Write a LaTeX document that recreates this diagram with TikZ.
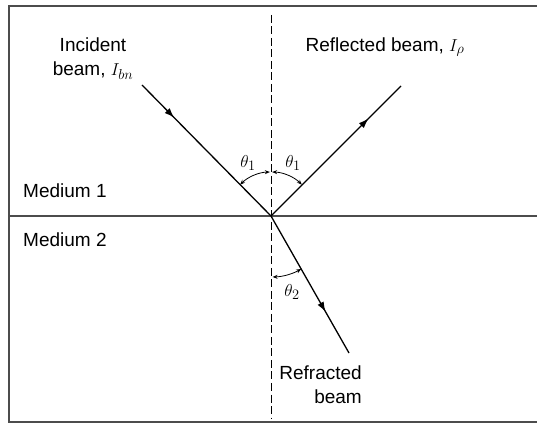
\documentclass[tikz,border=0pt]{standalone}
\usepackage{fontspec}
\setmainfont{Liberation Sans}
\usetikzlibrary{arrows.meta,decorations.markings}
\begin{document}
\begin{tikzpicture}[x=1pt,y=1pt,
  lbl/.style={inner sep=0pt,font=\fontsize{19}{24}\selectfont},
  frame/.style={draw=black!70,line width=1.6pt},
  beam/.style={line width=1.3pt},
  midarrow/.style={postaction={decorate},decoration={markings,
     mark=at position #1 with {\arrow{Latex[length=10pt,width=7pt]}}}},
  anglearc/.style={line width=0.8pt,{Stealth[length=5pt,width=4pt]}-{Stealth[length=5pt,width=4pt]}},
  normalline/.style={line width=1pt,dash pattern=on 8pt off 3.5pt}]
\useasboundingbox (0,0) rectangle (537,425);
% frame
\coordinate (tl) at (9,419); \coordinate (tr) at (537,419);
\coordinate (bl) at (9,3); \coordinate (br) at (537,3);
\coordinate (il) at (9,209); \coordinate (ir) at (537,209);
\draw[frame] (tr) -- (tl) -- (bl) -- (br);
\draw[frame] (il) -- (ir);
% normal
\coordinate (O) at (271,209);
\coordinate (ntop) at (271,410); \coordinate (nbot) at (271,6);
\draw[normalline] (ntop) -- (nbot);
% beams
\coordinate (A) at (142,340);
\coordinate (B) at (401,339);
\coordinate (C) at (349,72);
\draw[beam,midarrow=0.25] (A) -- (O);
\draw[beam,midarrow=0.75] (O) -- (B);
\draw[beam,midarrow=0.7] (O) -- (C);
% angle arcs
\draw[anglearc] ([shift={(134.6:44)}]O) arc[start angle=134.6,end angle=91.5,radius=44];
\draw[anglearc] ([shift={(88.5:44)}]O) arc[start angle=88.5,end angle=45.5,radius=44];
\draw[anglearc] ([shift={(271.5:61)}]O) arc[start angle=271.5,end angle=299.7,radius=61];
% labels
\node[lbl] (t1l) at (248,262) {$\theta_1$};
\node[lbl] (t1r) at (293,262) {$\theta_1$};
\node[lbl] (t2) at (292,133) {$\theta_2$};
\node[lbl,align=center] (inc) at (93,366) {Incident\\beam, $I_{bn}$};
\node[lbl] (refl) at (385,378) {Reflected beam, $I_{\rho}$};
\node[lbl,anchor=west] (m1) at (23,234) {Medium 1};
\node[lbl,anchor=west] (m2) at (23,185) {Medium 2};
\node[lbl,align=right,anchor=east] (refr) at (362,40) {Refracted\\beam};
\end{tikzpicture}
\end{document}
